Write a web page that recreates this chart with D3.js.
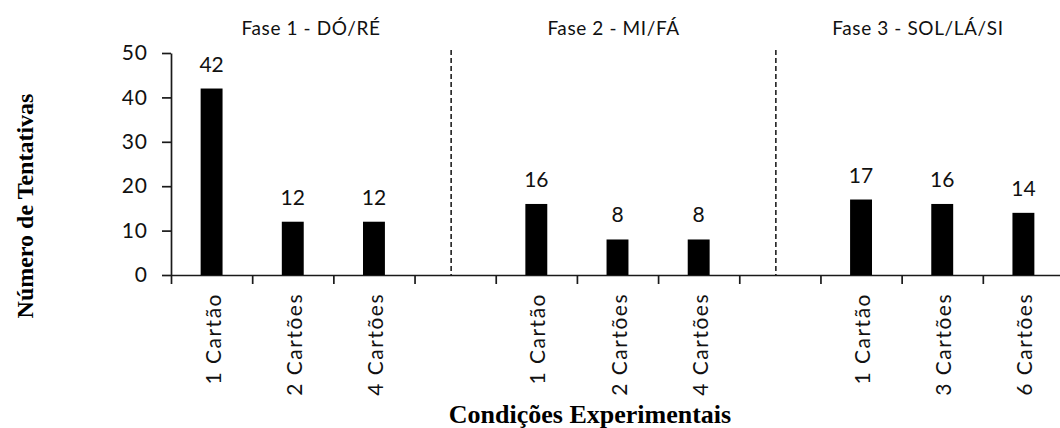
<!DOCTYPE html>
<html>
<head>
<meta charset="utf-8">
<script src="https://cdn.jsdelivr.net/npm/d3@7"></script>
<style>
  body { margin: 0; background: #fff; }
  svg { display: block; }
</style>
</head>
<body>
<div id="plot"></div>
<script>
// data (empty slots are the gaps between phases)
const categories = ["1 Cartão", "2 Cartões", "4 Cartões", "", "1 Cartão", "2 Cartões", "4 Cartões", "", "1 Cartão", "3 Cartões", "6 Cartões"];
const values = [42, 12, 12, null, 16, 8, 8, null, 17, 16, 14];
const phaseTitles = ["Fase 1 - DÓ/RÉ", "Fase 2 - MI/FÁ", "Fase 3 - SOL/LÁ/SI"];
const yTicks = [0, 10, 20, 30, 40, 50];

const width = 1060, height = 428;
const plotLeft = 171, plotRight = 1064, plotTop = 53, plotBottom = 275;

const svg = d3.select("#plot").append("svg")
  .attr("width", width)
  .attr("height", height);

// scales
const idx = d3.range(categories.length);
const x = d3.scaleBand()
  .domain(idx)
  .range([plotLeft, plotRight])
  .paddingInner(0.73)
  .paddingOuter(0.365);

const slot = d3.scaleLinear()
  .domain([0, categories.length])
  .range([plotLeft, plotRight]);

const y = d3.scaleLinear()
  .domain([0, 50])
  .range([plotBottom, plotTop]);

// y axis
const yAxis = svg.append("g")
  .attr("transform", `translate(${plotLeft},0)`)
  .call(d3.axisLeft(y).tickValues(yTicks).tickSize(9).tickSizeOuter(0).tickPadding(14));
yAxis.select(".domain").attr("stroke", "#1a1a1a").attr("stroke-width", 1.7);
yAxis.selectAll(".tick line").attr("stroke", "#1a1a1a").attr("stroke-width", 1.7);
yAxis.selectAll("text")
  .attr("font-family", "Lato, sans-serif")
  .attr("font-size", 21)
  .attr("letter-spacing", 1)
  .attr("fill", "#111");

// x axis: ticks on slot boundaries
const xAxis = svg.append("g")
  .attr("transform", `translate(0,${plotBottom})`)
  .call(d3.axisBottom(slot).tickValues(d3.range(categories.length + 1)).tickFormat("").tickSize(9).tickSizeOuter(0));
xAxis.select(".domain").attr("stroke", "#1a1a1a").attr("stroke-width", 1.7);
xAxis.selectAll(".tick line").attr("stroke", "#1a1a1a").attr("stroke-width", 1.7);

// category labels, rotated
svg.append("g").selectAll("text")
  .data(idx.filter(i => categories[i] !== ""))
  .join("text")
  .attr("transform", i => `translate(${x(i) + x.bandwidth() / 2 + 9},${plotBottom + 18}) rotate(-90)`)
  .attr("text-anchor", "end")
  .attr("font-family", "Lato, sans-serif")
  .attr("font-size", 21)
  .attr("letter-spacing", 1.5)
  .attr("fill", "#111")
  .text(i => categories[i]);

// bars
svg.append("g").selectAll("rect")
  .data(idx.filter(i => values[i] !== null))
  .join("rect")
  .attr("x", i => x(i))
  .attr("y", i => y(values[i]))
  .attr("width", x.bandwidth())
  .attr("height", i => y(0) - y(values[i]))
  .attr("fill", "#000");

// value labels
svg.append("g").selectAll("text")
  .data(idx.filter(i => values[i] !== null))
  .join("text")
  .attr("x", i => x(i) + x.bandwidth() / 2)
  .attr("y", i => y(values[i]) - 17)
  .attr("text-anchor", "middle")
  .attr("font-family", "Lato, sans-serif")
  .attr("font-size", 21)
  .attr("fill", "#111")
  .text(i => values[i]);

// dashed separators in the empty slots
const gaps = idx.filter(i => values[i] === null);
svg.append("g").selectAll("line")
  .data(gaps)
  .join("line")
  .attr("x1", i => x(i) + x.bandwidth() / 2 - 4)
  .attr("x2", i => x(i) + x.bandwidth() / 2 - 4)
  .attr("y1", y(50) - 3)
  .attr("y2", plotBottom)
  .attr("stroke", "#111")
  .attr("stroke-width", 1.5)
  .attr("stroke-dasharray", "5,3");

// phase titles, centered in each phase region
const edges = [plotLeft].concat(gaps.map(i => x(i) + x.bandwidth() / 2 - 4), [width]);
svg.append("g").selectAll("text")
  .data(phaseTitles)
  .join("text")
  .attr("x", (d, i) => (edges[i] + edges[i + 1]) / 2)
  .attr("y", 35)
  .attr("text-anchor", "middle")
  .attr("font-family", "Lato, sans-serif")
  .attr("font-size", 19)
  .attr("letter-spacing", 0.6)
  .attr("fill", "#111")
  .text(d => d);

// axis titles
svg.append("text")
  .attr("transform", `translate(33,206) rotate(-90)`)
  .attr("text-anchor", "middle")
  .attr("font-family", "'Liberation Serif', 'Times New Roman', serif")
  .attr("font-weight", "bold")
  .attr("font-size", 24)
  .text("Número de Tentativas");

svg.append("text")
  .attr("x", 590)
  .attr("y", 423)
  .attr("text-anchor", "middle")
  .attr("font-family", "'Liberation Serif', 'Times New Roman', serif")
  .attr("font-weight", "bold")
  .attr("font-size", 26)
  .text("Condições Experimentais");
</script>
</body>
</html>
